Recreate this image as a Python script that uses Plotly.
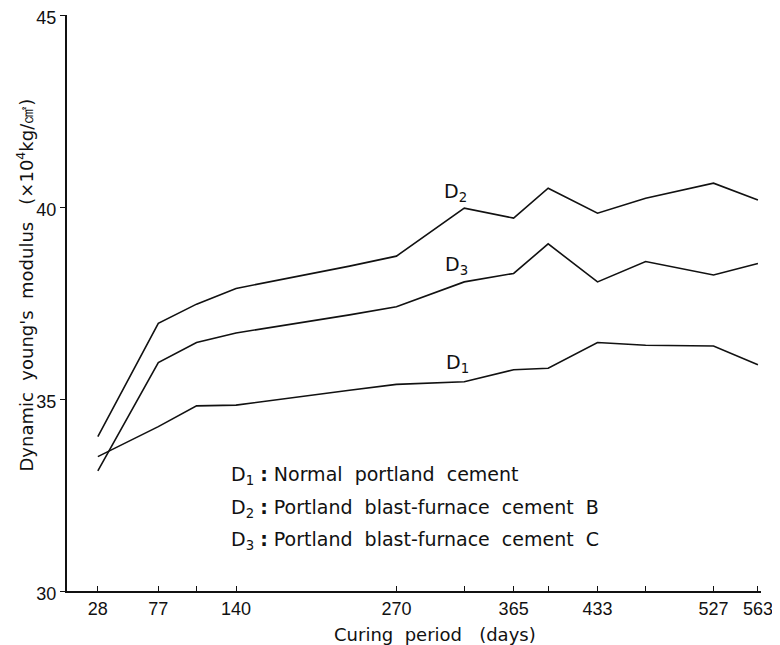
import plotly.graph_objects as go

# Curing period (days) of each measurement
days = [28, 77, 108, 140, 232, 270, 325, 365, 393, 433, 472, 527, 563]

# Dynamic Young's modulus (x10^4 kg/cm2)
d1 = [33.50, 34.28, 34.82, 34.84, 35.23, 35.38, 35.45, 35.76, 35.80, 36.47, 36.40, 36.38, 35.89]
d2 = [34.02, 36.97, 37.47, 37.88, 38.46, 38.72, 39.97, 39.71, 40.49, 39.84, 40.23, 40.62, 40.18]
d3 = [33.13, 35.95, 36.47, 36.72, 37.19, 37.40, 38.05, 38.27, 39.04, 38.05, 38.58, 38.23, 38.53]

series = [("D1", d1), ("D2", d2), ("D3", d3)]

x_tickvals = [28, 77, 108, 140, 270, 325, 365, 393, 433, 472, 527, 563]
x_ticktext = ["28", "77", "", "140", "270", "", "365", "", "433", "", "527", "563"]
y_tickvals = [30, 35, 40, 45]
y_ticktext = ["30", "35", "40", "45"]

NB = "\u00a0"
legend_lines = [
    f"D<sub>1</sub> <b>:</b> Normal{NB} portland{NB} cement",
    f"D<sub>2</sub> <b>:</b> Portland{NB} blast-furnace{NB} cement{NB} B",
    f"D<sub>3</sub> <b>:</b> Portland{NB} blast-furnace{NB} cement{NB} C",
]

TICKFONT = "Liberation Sans, Arial, sans-serif"
TEXTFONT = "DejaVu Sans, Verdana, sans-serif"
INK = "#111111"

fig = go.Figure()
for name, vals in series:
    fig.add_trace(go.Scatter(x=days, y=vals, mode="lines", name=name,
                             line=dict(color=INK, width=1.6), showlegend=False))

# Line labels
line_labels = [("D<sub>2</sub>", 317.5, 40.38), ("D<sub>3</sub>", 318.5, 38.47), ("D<sub>1</sub>", 319.5, 35.92)]
for txt, lx, ly in line_labels:
    fig.add_annotation(x=lx, y=ly, xref="x", yref="y", text=txt, showarrow=False,
                       font=dict(family=TEXTFONT, size=19, color=INK))

# Key text block
for i, txt in enumerate(legend_lines):
    fig.add_annotation(x=0.233, y=0.2 - i * 0.0565, xref="paper", yref="paper",
                       text=txt, showarrow=False, xanchor="left", yanchor="middle",
                       font=dict(family=TEXTFONT, size=19, color=INK))

# Axis titles
fig.add_annotation(x=0.53, y=-0.076, xref="paper", yref="paper",
                   text=f"Curing{NB} period{NB}{NB} (days)", showarrow=False,
                   xanchor="center", yanchor="middle",
                   font=dict(family=TEXTFONT, size=18, color=INK))
fig.add_annotation(x=-0.06, y=0.531, xref="paper", yref="paper",
                   text=f"Dynamic{NB} young's{NB} modulus{NB}{NB} (×10<sup>4</sup>kg/㎠)", showarrow=False,
                   textangle=-90, xanchor="center", yanchor="middle",
                   font=dict(family=TEXTFONT, size=18, color=INK))

fig.update_layout(
    width=772, height=637,
    margin=dict(l=59, r=19, t=7, b=54, autoexpand=False),
    paper_bgcolor="white", plot_bgcolor="white",
    font=dict(family=TEXTFONT, size=17, color=INK),
    xaxis=dict(range=[3, 565.5], showgrid=False, zeroline=False, automargin=False,
               showline=True, linecolor=INK, linewidth=2,
               ticks="inside", ticklen=5, tickcolor=INK, tickwidth=1,
               tickvals=x_tickvals, ticktext=x_ticktext,
               ticklabeloverflow="allow",
               tickfont=dict(family=TICKFONT, size=18, color=INK)),
    yaxis=dict(range=[30, 45], showgrid=False, zeroline=False, automargin=False,
               showline=True, linecolor=INK, linewidth=2,
               ticks="outside", ticklen=5, tickcolor=INK, tickwidth=1,
               tickvals=y_tickvals, ticktext=y_ticktext,
               ticklabeloverflow="allow", ticklabelshift=3,
               tickfont=dict(family=TICKFONT, size=18, color=INK)),
)

fig.write_html("out.html")
